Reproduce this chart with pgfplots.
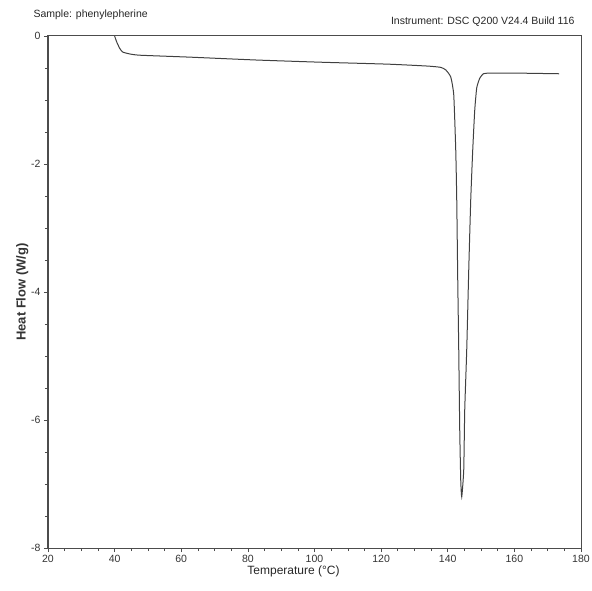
\documentclass[border=0pt]{standalone}
\usepackage{pgfplots}
\pgfplotsset{compat=1.18}
\usepackage{fontspec}
\setmainfont{Liberation Sans}
\usetikzlibrary{calc}
\begin{document}
\begin{tikzpicture}
\begin{axis}[
  scale only axis,
  width=533pt, height=512pt,
  xmin=20, xmax=180, ymin=-8, ymax=0,
  xtick={20,40,...,180}, ytick={-8,-6,...,0},
  minor x tick num=3, minor y tick num=3,
  tick align=outside,
  tick pos=left,
  axis lines=box,
  major tick length=4pt, minor tick length=3pt,
  tick style={black!70, line width=0.6pt},
  axis line style={black!70, line width=1pt},
  every tick label/.append style={font=\fontsize{10.5}{11}\selectfont, text=black!80},
  /pgf/number format/assume math mode=true,
  xlabel={Temperature (°C)},
  ylabel={\bfseries Heat Flow (W/g)},
  xlabel style={font=\fontsize{12}{13}\selectfont, text=black!85, yshift=4pt, xshift=-21pt},
  ylabel style={font=\fontsize{13}{14}\selectfont, text=black!80, yshift=-4pt},
  clip=false,
]
\addplot[black!75, line width=1pt, smooth, tension=0.3] coordinates {
(40.0,0.0) (40.6,-0.09) (41.5,-0.19) (42.4,-0.25) (44.5,-0.28) (47.5,-0.30)
(62.4,-0.33) (82.4,-0.375) (102.1,-0.41) (122.1,-0.44) (134.0,-0.47)
(137.9,-0.49) (139.4,-0.53) (140.9,-0.64) (141.8,-0.92) (142.4,-1.78)
(142.7,-2.56) (143.0,-3.81) (143.3,-4.9) (143.6,-6.16) (143.9,-6.94)
(144.2,-7.2) (144.8,-6.78) (145.1,-5.84) (145.7,-4.9) (146.3,-3.66)
(146.9,-2.56) (147.5,-1.78) (148.1,-1.16) (148.7,-0.81) (149.6,-0.66)
(150.7,-0.59) (152.5,-0.58) (160.9,-0.58) (173.4,-0.59)
};
\coordinate (sw) at (rel axis cs:0,0);
\coordinate (ne) at (rel axis cs:1,1);
\end{axis}
\draw[black!70, line width=1pt] (sw) rectangle (ne);
\node[anchor=base west, font=\fontsize{10.5}{11}\selectfont, text=black!85] at ($(sw|-ne)+(-18pt,18pt)$) {Sample: phenylepherine};
\node[anchor=base east, font=\fontsize{10.5}{11}\selectfont, text=black!85] at ($(ne)+(-3pt,11pt)$) {Instrument: DSC Q200 V24.4 Build 116};
\pgfresetboundingbox
\path ($(sw)+(-48pt,-42pt)$) rectangle ($(ne)+(11pt,36pt)$);
\end{tikzpicture}
\end{document}
